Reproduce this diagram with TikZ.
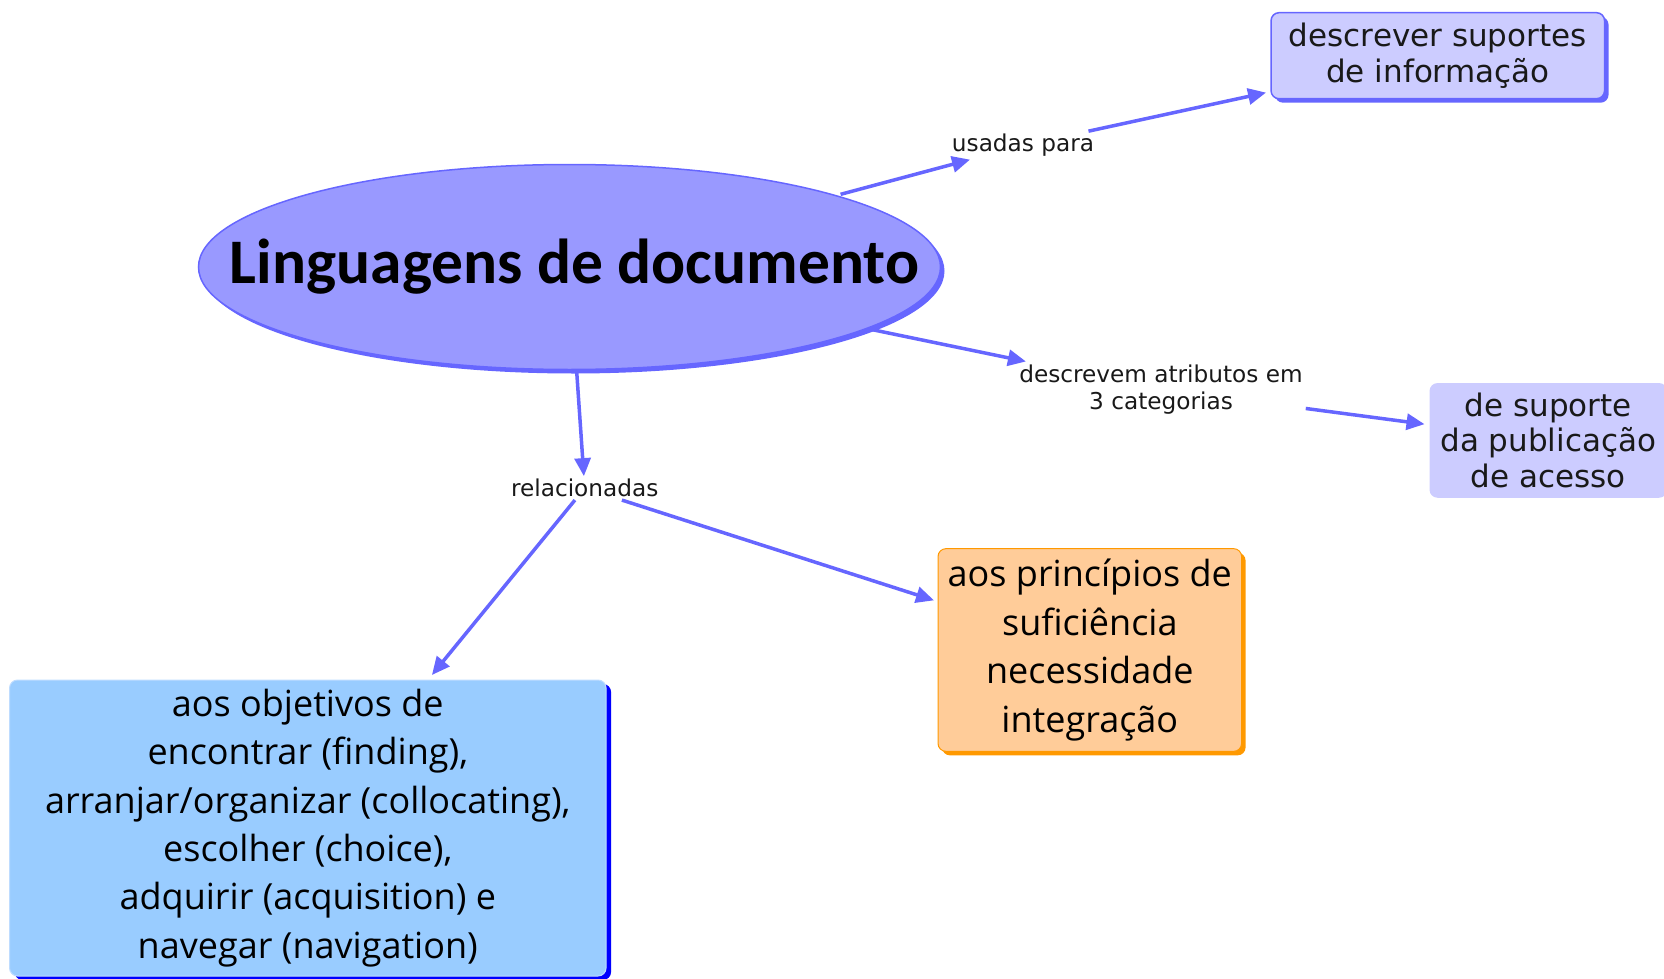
\documentclass[tikz,border=0pt]{standalone}
\usepackage{fontspec}
\setmainfont{DejaVu Sans}
\newfontfamily\titlefont{Carlito}
\newfontfamily\comicfont{Open Sans}
\usetikzlibrary{arrows.meta,shapes.geometric,shadows}
\definecolor{arrowblue}{RGB}{102,102,255}
\definecolor{ellfill}{RGB}{153,153,255}
\definecolor{lav}{RGB}{204,204,255}
\definecolor{orfill}{RGB}{255,204,153}
\definecolor{orline}{RGB}{255,153,0}
\definecolor{bluefill}{RGB}{153,204,255}
\definecolor{blueline}{RGB}{190,220,255}
\definecolor{deepblue}{RGB}{0,0,255}
\begin{document}
\begin{tikzpicture}[x=1pt,y=-1pt,
  conn/.style={draw=arrowblue,line width=3.5pt,-{Triangle[length=18pt,width=16pt]}},
  linklabel/.style={font=\fontsize{23.2}{27.6}\selectfont,text=black!90,inner sep=3pt,outer sep=0pt,align=center},
  boxtext/.style={font=\fontsize{31}{36}\selectfont,text=black!90,align=center},
  comictext/.style={font=\comicfont\fontsize{36}{48.4}\selectfont,text=black,align=center},
  lavbox/.style={rectangle,rounded corners=8pt,fill=lav,inner sep=0pt,outer sep=5pt},
]
\useasboundingbox (0,0) rectangle (1664,979);

% main concept
\node[ellipse,fill=ellfill,draw=arrowblue,line width=1.5pt,
      minimum width=742pt,minimum height=205pt,inner sep=0pt,outer sep=3pt,
      drop shadow={shadow xshift=4pt,shadow yshift=-4pt,fill=arrowblue,opacity=1},
      font=\titlefont\bfseries\fontsize{63.5}{70}\selectfont]
  (ell) at (569.5,267) {\makebox[0pt]{\hspace*{10pt}Linguagens de documento}};

% concept boxes
\node[lavbox,draw=arrowblue,line width=1.5pt,
      minimum width=333.5pt,minimum height=86pt,
      drop shadow={shadow xshift=4pt,shadow yshift=-4pt,fill=arrowblue,opacity=1},boxtext]
  (desc) at (1437.8,55.7) {descrever suportes\\ de informação};

\node[lavbox,minimum width=237.6pt,minimum height=114.7pt,boxtext,
      font=\fontsize{31}{35.5}\selectfont]
  (sup) at (1548.3,440.4) {de suporte\\da publicação\\de acesso};

\node[rectangle,rounded corners=8pt,fill=orfill,draw=orline,line width=1pt,
      minimum width=303.6pt,minimum height=202.7pt,inner sep=0pt,outer sep=4pt,
      drop shadow={shadow xshift=4pt,shadow yshift=-4pt,fill=orline,opacity=1},comictext]
  (prin) at (1089.8,650) {aos princípios de\\suficiência\\necessidade\\integração};

\node[rectangle,rounded corners=8pt,fill=bluefill,draw=blueline,line width=1pt,
      minimum width=596.5pt,minimum height=296pt,inner sep=0pt,outer sep=5pt,
      drop shadow={shadow xshift=5pt,shadow yshift=-4pt,fill=deepblue,opacity=1},comictext]
  (obj) at (307.8,828) {aos objetivos de\\encontrar (finding),\\arranjar/organizar (collocating),\\escolher (choice),\\adquirir (acquisition) e\\navegar (navigation)};

% linking phrases
\node[linklabel] (usadas) at (1023,145.4) {usadas para};
\node[linklabel] (descrevem) at (1161,389.5) {descrevem atributos em\\3 categorias};
\node[linklabel] (rel) at (584.7,488.1) {relacionadas};

% connectors
\draw[conn] (ell) -- (usadas);
\draw[conn] (usadas) -- (desc);
\draw[conn] (ell) -- (descrevem);
\draw[conn] (descrevem) -- (sup);
\draw[conn] (ell) -- (rel);
\draw[conn] (rel) -- (obj);
\draw[conn] (rel) -- (prin);
\end{tikzpicture}
\end{document}
